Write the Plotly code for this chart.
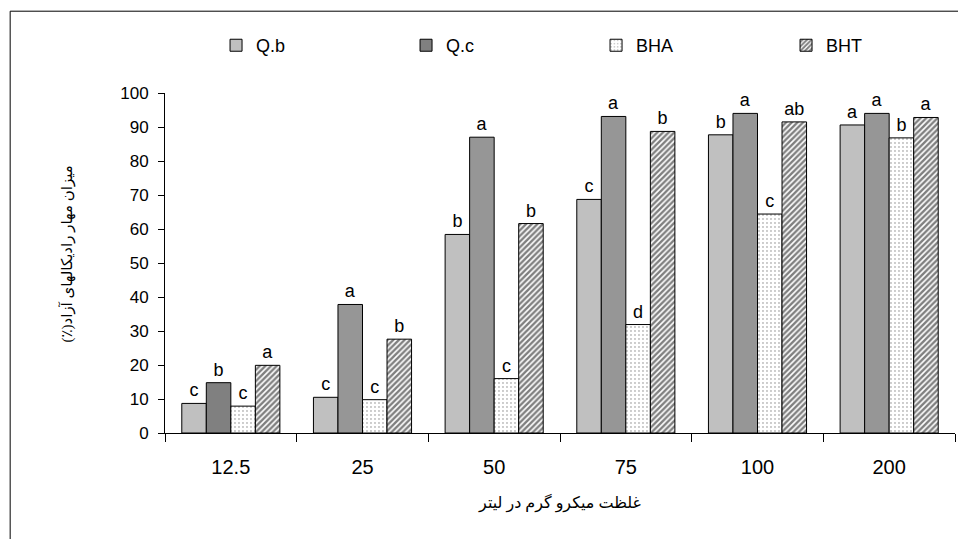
import plotly.graph_objects as go

categories = ["12.5", "25", "50", "75", "100", "200"]
qb = [8.7, 10.5, 58.4, 68.7, 87.7, 90.6]
qc = [14.8, 37.8, 87.0, 93.1, 94.0, 94.0]
bha = [7.9, 9.8, 16.0, 31.9, 64.4, 86.8]
bht = [19.9, 27.6, 61.6, 88.7, 91.5, 92.8]

qb_letters = ["c", "c", "b", "c", "b", "a"]
qc_letters = ["b", "a", "a", "a", "a", "a"]
bha_letters = ["c", "c", "c", "d", "c", "b"]
bht_letters = ["a", "b", "b", "b", "ab", "a"]

y_title = "\u200fمیزان مهار رادیکالهای آزاد(٪)\u200f"
x_title = "\u200fغلظت میکرو گرم در لیتر\u200f"

font_lat = "Liberation Sans, Arial, sans-serif"
font_fa = "Liberation Serif, DejaVu Sans, serif"

common = dict(textposition="outside", cliponaxis=False, constraintext="none",
              textangle=0, textfont=dict(family=font_lat, size=18, color="black"))

fig = go.Figure()
fig.add_trace(go.Bar(name="Q.b", x=categories, y=qb, text=qb_letters,
                     marker=dict(color="#C0C0C0", line=dict(color="black", width=1)), **common))
fig.add_trace(go.Bar(name="Q.c", x=categories, y=qc, text=qc_letters,
                     marker=dict(color=["#808080"] + ["#969696"] * 5, line=dict(color="black", width=1)), **common))
fig.add_trace(go.Bar(name="BHA", x=categories, y=bha, text=bha_letters,
                     marker=dict(color="white", line=dict(color="black", width=1),
                                 pattern=dict(shape=".", fgcolor="black", bgcolor="white", size=4, solidity=0.1)),
                     **common))
fig.add_trace(go.Bar(name="BHT", x=categories, y=bht, text=bht_letters,
                     marker=dict(color="white", line=dict(color="black", width=1),
                                 pattern=dict(shape="/", fgcolor="black", bgcolor="white", size=4, solidity=0.6)),
                     **common))

fig.update_layout(
    width=966, height=539,
    margin=dict(l=157, r=19, t=85, b=114, autoexpand=False),
    paper_bgcolor="white", plot_bgcolor="white",
    barmode="group", bargap=0.255, bargroupgap=0,
    font=dict(family=font_lat, size=15, color="black"),
    showlegend=True,
    legend=dict(orientation="h", x=0.0646, xanchor="left", y=1.194, yanchor="top",
                entrywidth=145, entrywidthmode="pixels", traceorder="normal",
                font=dict(family=font_lat, size=18, color="black"),
                bgcolor="rgba(0,0,0,0)"),
    xaxis=dict(type="category", showline=True, linecolor="black", linewidth=1,
               ticks="outside", ticklen=8, tickcolor="black", tickson="boundaries",
               ticklabelstandoff=16, showgrid=False, automargin=False,
               tickfont=dict(family=font_lat, size=20, color="black"),
               title=dict(text=x_title, font=dict(family=font_fa, size=16, color="black"), standoff=19)),
    yaxis=dict(range=[0, 100], dtick=10, showline=True, linecolor="black", linewidth=1,
               ticks="outside", ticklen=6, tickcolor="black", showgrid=False, zeroline=False,
               ticklabelstandoff=6, automargin=False,
               tickfont=dict(family=font_lat, size=17, color="black")),
    annotations=[dict(text=y_title, xref="paper", yref="paper", x=-0.1253, y=0.525,
                      xanchor="center", yanchor="middle", textangle=-90, showarrow=False,
                      font=dict(family=font_fa, size=15, color="black"))],
    shapes=[dict(type="rect", xref="paper", yref="paper",
                 x0=-0.196, x1=1.2, y0=-0.6, y1=1.2406,
                 line=dict(color="black", width=1), fillcolor="rgba(0,0,0,0)", layer="below")],
)

fig.write_html("out.html")
